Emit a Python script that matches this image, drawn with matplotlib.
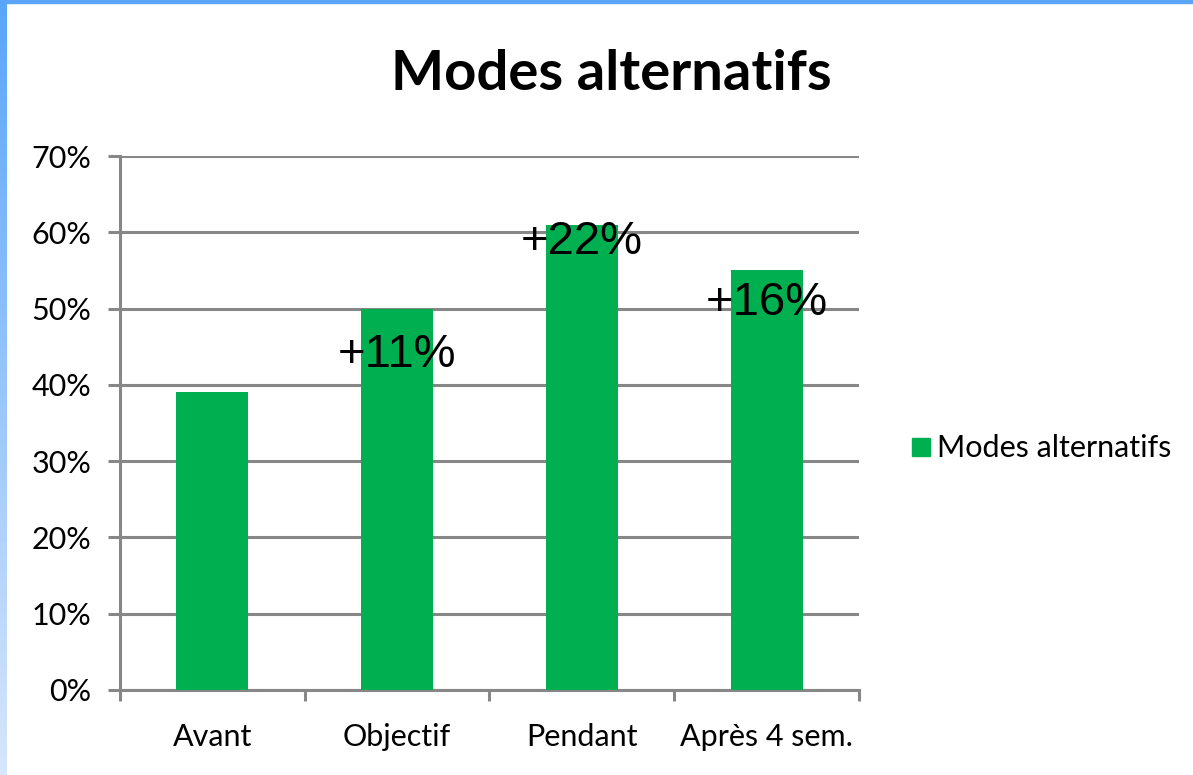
import numpy as np
import matplotlib.pyplot as plt
from matplotlib.patches import Rectangle

# données
categories = ['Avant', 'Objectif', 'Pendant', 'Après 4 sem.']
valeurs = [39, 50, 61, 55]
etiquettes = ['', '+11%', '+22%', '+16%']
pos_etiquettes = [0, 43.9, 58.7, 50.7]

vert = '#00B050'
gris = '#878787'

fig = plt.figure(figsize=(11.93, 7.75), dpi=100)
ax = fig.add_axes([0.1006, 0.1097, 0.72 - 0.1006, 0.7987 - 0.1097])

x = np.arange(len(categories))
ax.bar(x, valeurs, width=0.39, color=vert, zorder=3, label='Modes alternatifs')

for xi, txt, yi in zip(x, etiquettes, pos_etiquettes):
    if txt:
        ax.text(xi, yi, txt, ha='center', va='center', fontsize=34,
                family='Liberation Sans', zorder=4)

ax.set_xlim(-0.5, len(categories) - 0.5)
ax.set_ylim(0, 70)
ax.set_yticks(np.arange(0, 71, 10))
ax.set_yticklabels([f'{v}%' for v in range(0, 71, 10)], family='Lato', fontsize=22)
ax.yaxis.grid(True, color=gris, linewidth=2.2, zorder=1)
ax.set_axisbelow(True)

ax.set_xticks(x)
ax.set_xticklabels(categories, family='Lato', fontsize=22)
ax.tick_params(axis='x', length=0, pad=24)
ax.set_xticks(np.arange(-0.5, len(categories)), minor=True)
ax.tick_params(axis='x', which='minor', length=8, width=2.2, color=gris)
ax.tick_params(axis='y', length=8.6, width=2.2, color=gris, pad=12)

for s in ['top', 'right']:
    ax.spines[s].set_visible(False)
ax.spines['left'].set_color(gris)
ax.spines['left'].set_linewidth(2.2)
ax.spines['bottom'].set_color(gris)
ax.spines['bottom'].set_linewidth(2.2)

fig.text(0.512, 0.905, 'Modes alternatifs', ha='center', va='center',
         fontsize=40.5, fontweight='bold', family='Lato')

# légende
fig.patches.append(Rectangle((912 / 1193, 1 - 456 / 775), 18 / 1193, 18 / 775,
                             transform=fig.transFigure, color=vert))
fig.text(937 / 1193, 1 - 448 / 775, 'Modes alternatifs', ha='left', va='center',
         fontsize=22, family='Lato')

# bordure bleue
fig.patches.append(Rectangle((0, 1 - 3 / 775), 1, 3 / 775, transform=fig.transFigure,
                             color='#5AA5F8', zorder=10))
grad = np.linspace(0, 1, 100).reshape(-1, 1)
ax_b = fig.add_axes([0, 0, 7 / 1193, 1])
ax_b.imshow(grad, aspect='auto', cmap=plt.matplotlib.colors.LinearSegmentedColormap.from_list(
    'b', ['#5AA5F8', '#D6E6FB']), extent=[0, 1, 0, 1])
ax_b.axis('off')

fig.savefig('out.png', dpi=100)
